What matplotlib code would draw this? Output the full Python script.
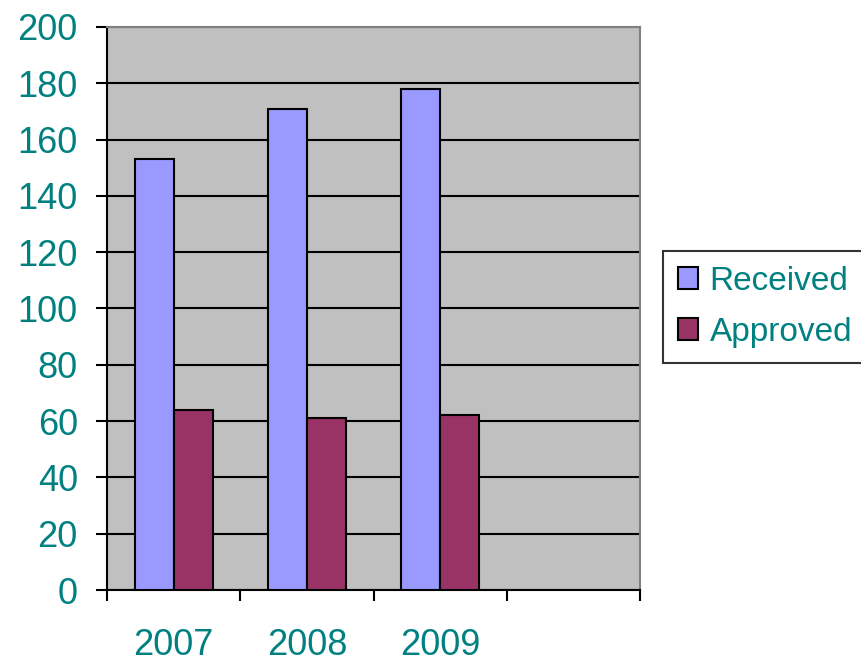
import numpy as np
import matplotlib
matplotlib.use('Agg')
import matplotlib.pyplot as plt

years = ['2007', '2008', '2009']
received = [153, 171, 178]
approved = [64, 61, 62]

teal = '#008080'
plt.rcParams['font.family'] = ['Liberation Sans', 'DejaVu Sans']

fig = plt.figure(figsize=(8.61, 6.64), dpi=100)
ax = fig.add_axes([0.1243, 0.1114, 0.619, 0.848])
ax.set_facecolor('#C0C0C0')

x = np.arange(len(years))
w = 0.293
ax.bar(x - w / 2, received, w, color='#9999FF', edgecolor='black', linewidth=1.5, label='Received', zorder=3)
ax.bar(x + w / 2, approved, w, color='#993366', edgecolor='black', linewidth=1.5, label='Approved', zorder=3)

ax.set_xlim(-0.5, 3.5)
ax.set_ylim(0, 200)
ax.set_yticks(range(0, 201, 20))
ax.yaxis.grid(True, color='black', linewidth=1.5, zorder=1)
ax.set_axisbelow(True)

ax.set_xticks(x)
ax.set_xticklabels(years)
ax.set_xticks(np.arange(-0.5, 3.6, 1), minor=True)
ax.tick_params(axis='x', which='major', length=0, pad=27, labelsize=26, labelcolor=teal)
ax.tick_params(axis='x', which='minor', length=8, width=1.5, direction='out')
ax.tick_params(axis='y', length=8, width=1.5, direction='out', pad=13, labelsize=26, labelcolor=teal)

for s in ['left', 'bottom']:
    ax.spines[s].set_linewidth(1.5)
    ax.spines[s].set_color('black')
for s in ['top', 'right']:
    ax.spines[s].set_linewidth(1.5)
    ax.spines[s].set_color('#808080')

leg = fig.legend(loc='center left', bbox_to_anchor=(0.770, 0.538), fontsize=24,
                 frameon=True, fancybox=False, edgecolor='black', labelcolor=teal,
                 handlelength=0.6, handleheight=0.6, handletextpad=0.35,
                 borderpad=0.45, labelspacing=0.6, borderaxespad=0)
leg.get_frame().set_linewidth(1.5)

fig.savefig('out.png', dpi=100)
